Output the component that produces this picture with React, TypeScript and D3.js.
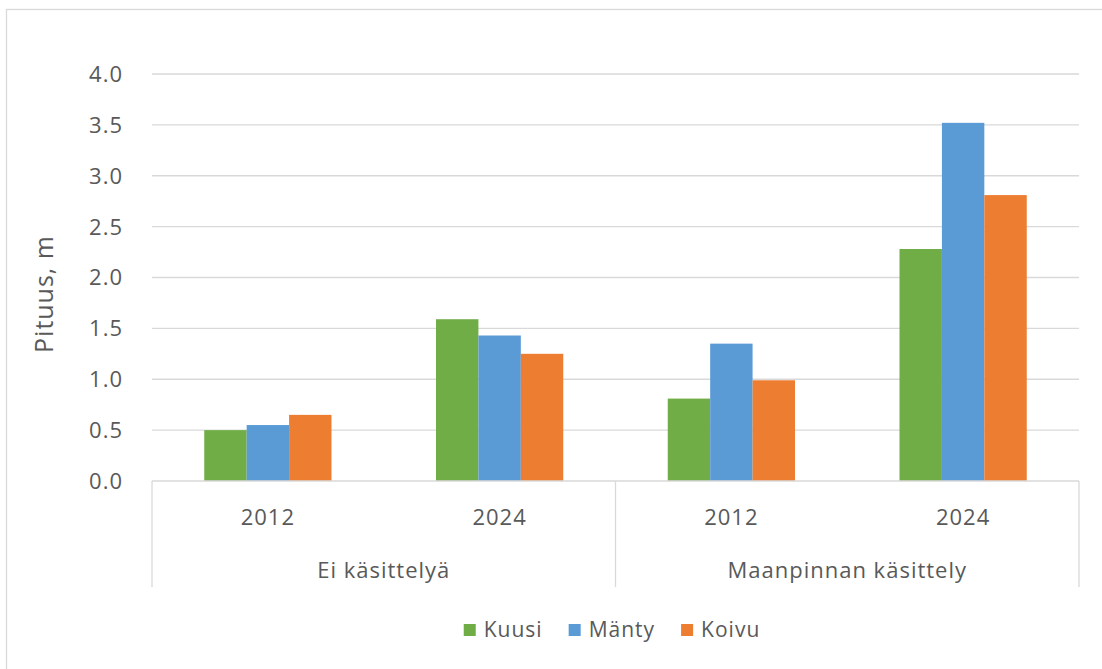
import React from "react";
import * as d3 from "d3";

const years = ["2012", "2024", "2012", "2024"];
const groups = ["Ei käsittelyä", "Maanpinnan käsittely"];
const seriesNames = ["Kuusi", "Mänty", "Koivu"];
const seriesColors = ["#70AD47", "#5B9BD5", "#ED7D31"];
const kuusi = [0.5, 1.59, 0.81, 2.28];
const manty = [0.55, 1.43, 1.35, 3.52];
const koivu = [0.65, 1.25, 0.99, 2.81];
const yTicks = [0, 0.5, 1.0, 1.5, 2.0, 2.5, 3.0, 3.5, 4.0];
const yTitle = "Pituus, m";

const W = 1102;
const H = 669;
const FONT = "'Open Sans', 'Noto Sans', sans-serif";
const TXT = "#595959";
const GRID = "#d9d9d9";

function measure(text: string, size: number, ls: number) {
  if (typeof document === "undefined") return text.length * size * 0.55;
  const c = document.createElement("canvas");
  const ctx = c.getContext("2d") as any;
  ctx.font = `${size}px 'Open Sans'`;
  try { ctx.letterSpacing = `${ls}px`; } catch (e) {}
  return ctx.measureText(text).width;
}

export default function App() {
  const left = 152, right = 1079, top = 74, bottom = 481;
  const y = d3.scaleLinear().domain([0, 4]).range([bottom, top]);
  const idx = d3.range(years.length).map(String);
  const x = d3.scaleBand().domain(idx).range([left, right]).padding(0);
  const bw = x.bandwidth();
  const barW = bw * 0.183;
  const inner = d3
    .scaleBand()
    .domain(seriesNames)
    .range([(bw - 3 * barW) / 2, (bw + 3 * barW) / 2])
    .padding(0);
  const series = [kuusi, manty, koivu];

  const groupX = d3.scaleBand().domain(groups).range([left, right]).padding(0);

  // legend layout
  const legSize = 21, legLs = 1, sq = 12, sqGap = 8, itemGap = 26;
  const widths = seriesNames.map((s) => sq + sqGap + measure(s, legSize, legLs));
  const total = d3.sum(widths) + itemGap * (seriesNames.length - 1);
  const legStart = 612 - total / 2;
  const legX: number[] = [];
  let acc = legStart;
  widths.forEach((w) => { legX.push(acc); acc += w + itemGap; });
  const legY = 637;

  return (
    <div style={{ position: "absolute", left: 0, top: 0 }}>
      <svg width={W} height={H} style={{ display: "block", fontFamily: FONT }}>
        <rect x={0} y={0} width={W} height={H} fill="#fff" />
        <rect x={6.5} y={9.5} width={W + 20} height={H + 20} fill="none" stroke={GRID} strokeWidth={1.3} />
        {yTicks.map((t) => (
          <g key={t}>
            {t > 0 && (
              <line x1={left} x2={right} y1={y(t)} y2={y(t)} stroke={GRID} strokeWidth={1.3} />
            )}
            <text x={123} y={y(t)} dy="0.36em" textAnchor="end" fontSize={22} letterSpacing={1} fill={TXT}>
              {t.toFixed(1)}
            </text>
          </g>
        ))}
        {series.map((vals, si) =>
          vals.map((v, i) => (
            <rect
              key={`${si}-${i}`}
              x={(x(String(i)) as number) + (inner(seriesNames[si]) as number)}
              y={y(v)}
              width={inner.bandwidth()}
              height={y(0) - y(v)}
              fill={seriesColors[si]}
            />
          ))
        )}
        <line x1={left} x2={right} y1={bottom} y2={bottom} stroke={GRID} strokeWidth={1.3} />
        {[left, groupX(groups[1]) as number, right].map((sx, i) => (
          <line key={i} x1={sx} x2={sx} y1={bottom} y2={587} stroke={GRID} strokeWidth={1.3} />
        ))}
        {years.map((yr, i) => (
          <text
            key={i}
            x={(x(String(i)) as number) + bw / 2}
            y={525}
            textAnchor="middle"
            fontSize={22}
            letterSpacing={1}
            fill={TXT}
          >
            {yr}
          </text>
        ))}
        {groups.map((g) => (
          <text
            key={g}
            x={(groupX(g) as number) + groupX.bandwidth() / 2}
            y={578}
            textAnchor="middle"
            fontSize={22}
            letterSpacing={1}
            fill={TXT}
          >
            {g}
          </text>
        ))}
        <text
          transform={`translate(53, ${294}) rotate(-90)`}
          textAnchor="middle"
          fontSize={25}
          letterSpacing={1}
          fill={TXT}
        >
          {yTitle}
        </text>
        {seriesNames.map((s, i) => (
          <g key={s}>
            <rect x={legX[i]} y={legY - 13} width={sq} height={sq} fill={seriesColors[i]} />
            <text x={legX[i] + sq + sqGap} y={legY} fontSize={legSize} letterSpacing={legLs} fill={TXT}>
              {s}
            </text>
          </g>
        ))}
      </svg>
    </div>
  );
}
